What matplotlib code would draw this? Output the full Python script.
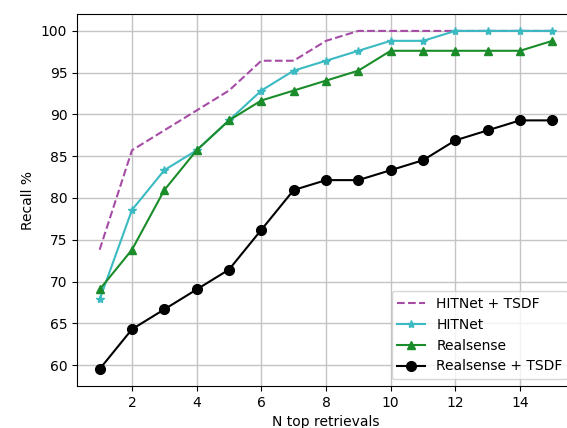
import matplotlib
matplotlib.use("Agg")
import matplotlib.pyplot as plt

n_top = list(range(1, 16))

# recall values (%)
hitnet_tsdf = [73.81, 85.71, 88.10, 90.48, 92.86, 96.43, 96.43, 98.81,
               100, 100, 100, 100, 100, 100, 100]
hitnet = [67.86, 78.57, 83.33, 85.71, 89.29, 92.86, 95.24, 96.43,
          97.62, 98.81, 98.81, 100, 100, 100, 100]
realsense = [69.05, 73.81, 80.95, 85.71, 89.29, 91.67, 92.86, 94.05,
             95.24, 97.62, 97.62, 97.62, 97.62, 97.62, 98.81]
realsense_tsdf = [59.52, 64.29, 66.67, 69.05, 71.43, 76.19, 80.95, 82.14,
                  82.14, 83.33, 84.52, 86.90, 88.10, 89.29, 89.29]

fig = plt.figure(figsize=(5.67, 4.28), dpi=100)
# axes runs past the right edge, like the cropped original
ax = fig.add_axes([77 / 567, 42 / 428, 498 / 567, 372 / 428])

ax.plot(n_top, hitnet_tsdf, '--', color='#a64ca6', label='HITNet + TSDF')
ax.plot(n_top, hitnet, '-*', color='#3cbac2', markersize=6, label='HITNet')
ax.plot(n_top, realsense, '-^', color='#1a8c2a', markersize=6, label='Realsense')
ax.plot(n_top, realsense_tsdf, '-o', color='black', markersize=7,
        label='Realsense + TSDF')

ax.set_xlabel('N top retrievals')
ax.set_ylabel('Recall %')
ax.set_xticks([2, 4, 6, 8, 10, 12, 14])
ax.set_yticks([60, 65, 70, 75, 80, 85, 90, 95, 100])
ax.grid(True, color='#c4c4c4', linewidth=1.0)
ax.legend(loc='lower right')

fig.savefig('out.png', dpi=100)
